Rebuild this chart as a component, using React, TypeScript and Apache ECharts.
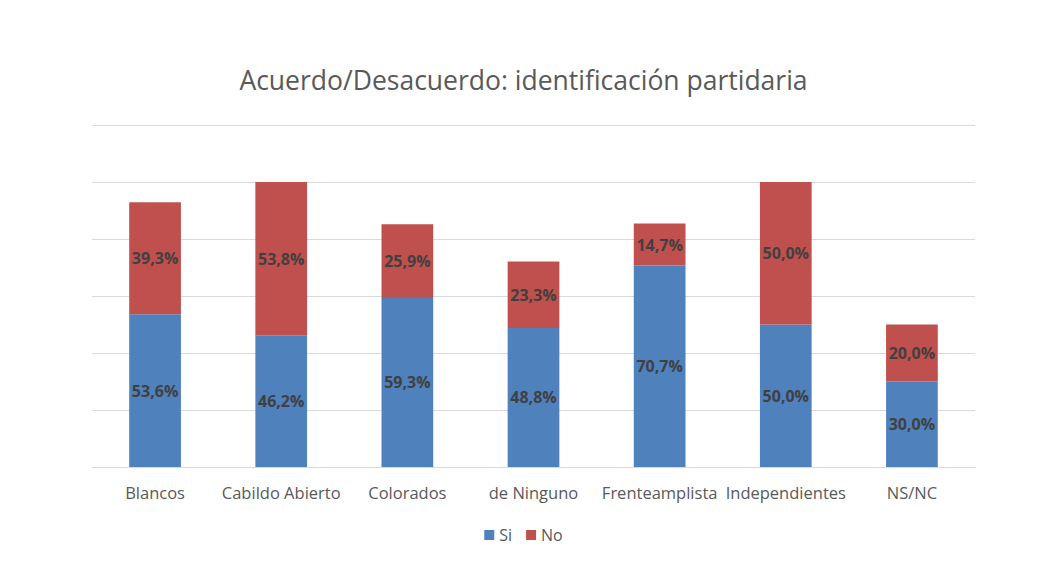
import React, { useEffect, useRef } from "react";
import * as echarts from "echarts";

const categories = ["Blancos", "Cabildo Abierto", "Colorados", "de Ninguno", "Frenteamplista", "Independientes", "NS/NC"];
const siValues = [53.6, 46.2, 59.3, 48.8, 70.7, 50.0, 30.0];
const noValues = [39.3, 53.8, 25.9, 23.3, 14.7, 50.0, 20.0];

const FONT = "'Open Sans', Lato, sans-serif";

export default function App() {
  const ref = useRef<HTMLDivElement>(null);
  useEffect(() => {
    if (!ref.current) return;
    const chart = echarts.init(ref.current, undefined, { renderer: "svg" });
    const fmt = (p: any) => p.value.toFixed(1).replace(".", ",") + "%";
    const label = {
      show: true,
      position: "inside",
      formatter: fmt,
      color: "#404040",
      fontSize: 16,
      fontWeight: "bold",
      fontFamily: FONT,
    };
    chart.setOption({
      animation: false,
      backgroundColor: "#ffffff",
      title: {
        text: "Acuerdo/Desacuerdo: identificación partidaria",
        left: "center",
        top: 61,
        textStyle: { color: "#595959", fontSize: 26.5, fontWeight: "normal", fontFamily: FONT },
      },
      legend: {
        bottom: 19,
        left: "center",
        itemWidth: 10,
        itemHeight: 10,
        itemGap: 14,
        icon: "rect",
        textStyle: { color: "#595959", fontSize: 16, fontFamily: FONT },
        data: ["Si", "No"],
      },
      grid: { left: 92, right: 72, top: 125, bottom: 100 },
      xAxis: {
        type: "category",
        data: categories,
        axisLine: { lineStyle: { color: "#d9d9d9" } },
        axisTick: { show: false },
        axisLabel: { color: "#595959", fontSize: 16.5, fontFamily: FONT, margin: 17, interval: 0 },
      },
      yAxis: {
        type: "value",
        min: 0,
        max: 120,
        interval: 20,
        axisLabel: { show: false },
        axisLine: { show: false },
        axisTick: { show: false },
        splitLine: { lineStyle: { color: "#d9d9d9" } },
      },
      series: [
        {
          name: "Si",
          type: "bar",
          stack: "total",
          data: siValues,
          barWidth: "41%",
          itemStyle: { color: "#4F81BD" },
          label,
        },
        {
          name: "No",
          type: "bar",
          stack: "total",
          data: noValues,
          barWidth: "41%",
          itemStyle: { color: "#C0504D" },
          label,
        },
      ],
    });
    return () => chart.dispose();
  }, []);
  return <div ref={ref} style={{ position: "absolute", left: 0, top: 0, width: 1047, height: 567 }} />;
}
